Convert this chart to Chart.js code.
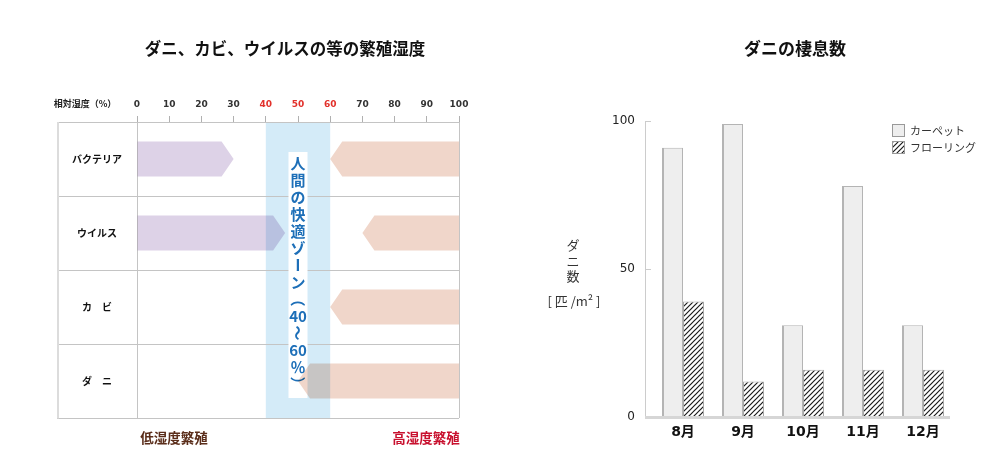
<!DOCTYPE html>
<html><head><meta charset="utf-8">
<script src="https://cdn.jsdelivr.net/npm/chart.js@4"></script>
<style>
html,body{margin:0;padding:0;background:#fff}
body{width:1000px;height:476px;overflow:hidden;position:relative;font-family:"Noto Sans CJK JP",sans-serif}
canvas{position:absolute;top:0}
#cL{left:0}
#cR{left:500px}
.t{position:absolute;white-space:nowrap;transform:translateX(-50%);text-align:center}
</style></head><body>
<canvas id="cL" width="500" height="476"></canvas>
<canvas id="cR" width="500" height="476"></canvas>
<div class="t" style="left:285px;top:38px;line-height:20px;font-size:16.5px;font-weight:bold;color:#111">ダニ、カビ、ウイルスの等の繁殖湿度</div>
<div class="t" style="left:795px;top:38px;line-height:20px;font-size:17px;font-weight:bold;color:#111">ダニの棲息数</div>
<div class="t" style="left:85px;top:97px;line-height:14px;font-size:9px;font-weight:bold;color:#222">相対湿度（%）</div>
<div class="t" style="left:174px;top:428px;line-height:18px;font-size:13.5px;font-weight:bold;color:#5a2d1a">低湿度繁殖</div>
<div class="t" style="left:426px;top:428px;line-height:18px;font-size:13.5px;font-weight:bold;color:#c8102e">高湿度繁殖</div>
<div class="t" style="left:573px;top:237px;line-height:15.5px;font-size:13px;color:#333">ダ<br>ニ<br>数</div>
<div class="t" style="left:574px;top:292px;line-height:18px;font-size:13px;color:#333">[ 匹 /m² ]</div>
<script>
// ---------- data ----------
const organisms = ['バクテリア', 'ウイルス', 'カ　ビ', 'ダ　ニ'];
const lowHumidityRanges = [[0, 30], [0, 46], null, null];
const highHumidityRanges = [[60, 100], [70, 100], [60, 100], [50, 100]];
const humidityMin = 0, humidityMax = 100, humidityStep = 10;
const highlightTicks = [40, 50, 60];
const comfortZone = [40, 60];
const comfortLabel = ['人', '間', 'の', '快', '適', 'ゾ', 'ー', 'ン', '（', '40', '〜', '60', '％', '）'];

const months = ['8月', '9月', '10月', '11月', '12月'];
const carpetCounts = [91, 99, 31, 78, 31];
const flooringCounts = [39, 12, 16, 16, 16];
const miteTicks = [0, 50, 100];

Chart.defaults.font.family = '"Noto Sans CJK JP", sans-serif';
Chart.defaults.animation = false;

// ---------- left chart ----------
const leftPlugin = {
  id: 'leftDecor',
  beforeDatasetsDraw(chart) {
    const ctx = chart.ctx, a = chart.chartArea, xs = chart.scales.x, ys = chart.scales.y;
    ctx.save();
    const bx1 = xs.getPixelForValue(comfortZone[0]), bx2 = xs.getPixelForValue(comfortZone[1]);
    ctx.fillStyle = '#d4ebf8';
    ctx.fillRect(bx1, a.top, bx2 - bx1, a.bottom - a.top);
    const n = organisms.length;
    const step = ys.getPixelForValue(1) - ys.getPixelForValue(0);
    ctx.strokeStyle = '#c4c4c4'; ctx.lineWidth = 1;
    for (let i = 0; i <= n; i++) {
      const yy = Math.round(ys.getPixelForValue(0) - step / 2 + i * step) + 0.5;
      ctx.beginPath(); ctx.moveTo(ys.left, yy); ctx.lineTo(a.right, yy); ctx.stroke();
    }
    [xs.getPixelForValue(humidityMin), xs.getPixelForValue(humidityMax)].forEach(px => {
      const xx = Math.round(px) + 0.5;
      ctx.beginPath(); ctx.moveTo(xx, a.top); ctx.lineTo(xx, a.bottom); ctx.stroke();
    });
    ctx.strokeStyle = '#dcdcdc'; ctx.lineWidth = 2;
    ctx.beginPath(); ctx.moveTo(ys.left + 1, a.top); ctx.lineTo(ys.left + 1, a.bottom + 0.5); ctx.stroke();
    const cx = (bx1 + bx2) / 2;
    ctx.fillStyle = '#ffffff';
    ctx.fillRect(cx - 9.5, a.top + 30, 19, 246);
    ctx.fillStyle = '#1d6fb8';
    ctx.font = 'bold 15px "Noto Sans CJK JP", sans-serif';
    ctx.textAlign = 'center'; ctx.textBaseline = 'middle';
    const rotated = ['ー', '（', '）', '〜'];
    comfortLabel.forEach((ch, i) => {
      const cy = a.top + 41 + i * 17;
      if (rotated.includes(ch)) {
        ctx.save(); ctx.translate(cx, cy); ctx.rotate(Math.PI / 2);
        ctx.fillText(ch, 0, 0); ctx.restore();
      } else {
        ctx.fillText(ch, cx, cy);
      }
    });
    ctx.restore();
  },
  afterDatasetsDraw(chart) {
    const ctx = chart.ctx;
    ctx.save();
    ctx.globalCompositeOperation = 'multiply';
    chart.data.datasets.forEach((ds, di) => {
      const meta = chart.getDatasetMeta(di);
      meta.data.forEach((el, i) => {
        if (ds.data[i] == null) return;
        const p = el.getProps(['x', 'y', 'base', 'height'], true);
        const l = Math.min(p.x, p.base), r = Math.max(p.x, p.base);
        const t = p.y - p.height / 2, b = p.y + p.height / 2, hd = 12;
        ctx.beginPath();
        if (ds.pointTo === 'right') {
          ctx.moveTo(l, t); ctx.lineTo(r - hd, t); ctx.lineTo(r, p.y); ctx.lineTo(r - hd, b); ctx.lineTo(l, b);
        } else {
          ctx.moveTo(r, t); ctx.lineTo(l + hd, t); ctx.lineTo(l, p.y); ctx.lineTo(l + hd, b); ctx.lineTo(r, b);
        }
        ctx.closePath();
        ctx.fillStyle = ds.arrowColor;
        ctx.fill();
      });
    });
    ctx.restore();
  }
};

new Chart(document.getElementById('cL'), {
  type: 'bar',
  data: {
    labels: organisms,
    datasets: [
      { label: '低湿度繁殖', data: lowHumidityRanges, pointTo: 'right', arrowColor: '#ddd2e7',
        backgroundColor: 'rgba(0,0,0,0)', borderWidth: 0 },
      { label: '高湿度繁殖', data: highHumidityRanges, pointTo: 'left', arrowColor: '#f0d6ca',
        backgroundColor: 'rgba(0,0,0,0)', borderWidth: 0 }
    ]
  },
  options: {
    indexAxis: 'y',
    responsive: false,
    devicePixelRatio: 1,
    grouped: false,
    categoryPercentage: 1,
    barPercentage: 0.47,
    layout: { padding: { left: 57, right: 41, top: 90, bottom: 58 } },
    plugins: { legend: { display: false }, tooltip: { enabled: false } },
    scales: {
      x: {
        type: 'linear', position: 'top', min: humidityMin, max: humidityMax,
        ticks: {
          stepSize: humidityStep, padding: 6,
          font: { family: '"DejaVu Sans", sans-serif', size: 9, weight: 'bold' },
          color: c => highlightTicks.includes(c.tick.value) ? '#e2312b' : '#333'
        },
        grid: { drawOnChartArea: false, drawTicks: true, tickLength: 6, color: '#b0b0b0' },
        border: { display: false },
        afterFit: s => { s.height = 32; }
      },
      y: {
        type: 'category', position: 'left',
        ticks: { crossAlign: 'center', padding: 15, color: '#111',
          font: { size: 10, weight: 'bold' } },
        grid: { display: false, drawTicks: false },
        border: { display: false },
        afterFit: s => { s.width = 80; }
      }
    }
  },
  plugins: [leftPlugin]
});

// ---------- right chart ----------
const rctx = document.getElementById('cR').getContext('2d');
function makeHatch() {
  const c = document.createElement('canvas');
  c.width = 5; c.height = 5;
  const g = c.getContext('2d');
  g.fillStyle = '#ffffff'; g.fillRect(0, 0, 5, 5);
  g.strokeStyle = '#1a1a1a'; g.lineWidth = 1.2;
  g.beginPath();
  g.moveTo(-1, 6); g.lineTo(6, -1);
  g.moveTo(-1, 1); g.lineTo(1, -1);
  g.moveTo(4, 6); g.lineTo(6, 4);
  g.stroke();
  return rctx.createPattern(c, 'repeat');
}
const hatch = makeHatch();

const rightPlugin = {
  id: 'rightDecor',
  afterDatasetsDraw(chart) {
    const ctx = chart.ctx, a = chart.chartArea, ys = chart.scales.y;
    ctx.save();
    const ax = a.left - 8;
    ctx.strokeStyle = '#cccccc'; ctx.lineWidth = 1;
    ctx.beginPath(); ctx.moveTo(ax + 0.5, ys.getPixelForValue(100)); ctx.lineTo(ax + 0.5, a.bottom); ctx.stroke();
    miteTicks.forEach(v => {
      const yy = Math.round(ys.getPixelForValue(v)) + 0.5;
      ctx.beginPath(); ctx.moveTo(ax, yy); ctx.lineTo(ax + 6, yy); ctx.stroke();
    });
    ctx.strokeStyle = '#d6d6d6'; ctx.lineWidth = 3;
    ctx.beginPath(); ctx.moveTo(ax, a.bottom + 0.5); ctx.lineTo(a.right - 3, a.bottom + 0.5); ctx.stroke();
    ctx.font = '11px "Noto Sans CJK JP", sans-serif';
    ctx.textAlign = 'left'; ctx.textBaseline = 'middle';
    chart.data.datasets.forEach((ds, i) => {
      const bx = 392.5, by = 124.5 + i * 17;
      ctx.fillStyle = ds.backgroundColor;
      ctx.fillRect(bx, by, 12, 12);
      ctx.strokeStyle = '#999'; ctx.lineWidth = 1;
      ctx.strokeRect(bx, by, 12, 12);
      ctx.fillStyle = '#333';
      ctx.fillText(ds.label, 410, by + 6);
    });
    ctx.restore();
  }
};

new Chart(document.getElementById('cR'), {
  type: 'bar',
  data: {
    labels: months,
    datasets: [
      { label: 'カーペット', data: carpetCounts, backgroundColor: '#eeeeee',
        borderColor: '#b4b4b4', borderWidth: { top: 1, left: 2, right: 1, bottom: 0 }, borderSkipped: 'start' },
      { label: 'フローリング', data: flooringCounts, backgroundColor: hatch,
        borderColor: '#a8a8a8', borderWidth: { top: 1, left: 1, right: 1, bottom: 0 }, borderSkipped: 'start' }
    ]
  },
  options: {
    responsive: false,
    devicePixelRatio: 1,
    categoryPercentage: 0.7,
    barPercentage: 1,
    layout: { padding: { left: 93, right: 47, top: 121, bottom: 29 } },
    plugins: { legend: { display: false }, tooltip: { enabled: false } },
    scales: {
      x: {
        ticks: { padding: 7, color: '#111',
          font: { family: '"DejaVu Sans", "Noto Sans CJK JP", sans-serif', size: 14, weight: 'bold' } },
        grid: { display: false, drawTicks: false },
        border: { display: false },
        afterFit: s => { s.height = 30; }
      },
      y: {
        min: 0, max: 100,
        afterBuildTicks: s => { s.ticks = miteTicks.map(v => ({ value: v })); },
        ticks: { padding: 18, color: '#222', font: { family: '"DejaVu Sans", sans-serif', size: 12 } },
        grid: { display: false, drawTicks: false },
        border: { display: false },
        afterFit: s => { s.width = 60; }
      }
    }
  },
  plugins: [rightPlugin]
});
</script>
</body></html>
